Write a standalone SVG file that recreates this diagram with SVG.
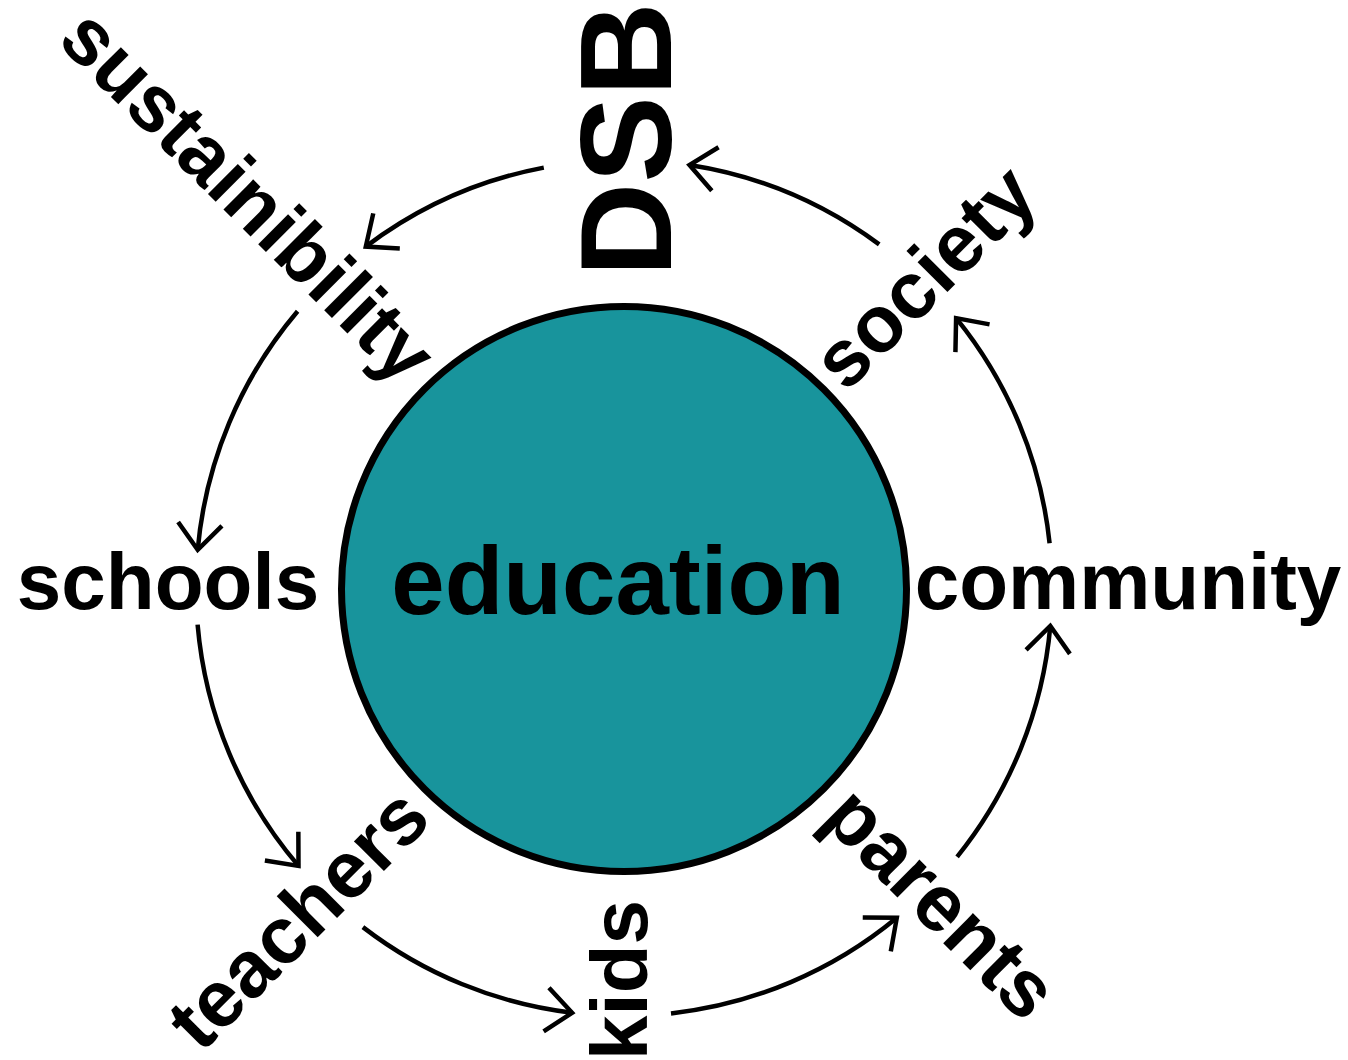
<svg xmlns="http://www.w3.org/2000/svg" width="1348" height="1060" viewBox="0 0 1348 1060">
<style>
.lbl{font-family:"Liberation Sans",Arial,Helvetica,sans-serif;font-weight:bold;font-size:80px;fill:#000;text-anchor:middle}
.conn{fill:none;stroke:#000;stroke-width:4.5}
</style>
<defs>
<marker id="chev" markerUnits="userSpaceOnUse" markerWidth="60" markerHeight="60" viewBox="-40 -30 50 60" refX="0" refY="0" orient="auto" overflow="visible">
<path d="M -26 -22 L 0 0 L -26 22" fill="none" stroke="#000" stroke-width="4.5" stroke-linejoin="miter" stroke-linecap="butt"/>
</marker>
</defs>
<rect width="1348" height="1060" fill="#fff"/>
<g id="connectors">
<path class="conn" marker-end="url(#chev)" d="M 543.8 167.6 A 428 428 0 0 0 365.8 246.6"/>
<path class="conn" marker-end="url(#chev)" d="M 297.6 311.2 A 428 428 0 0 0 197.7 549.9"/>
<path class="conn" marker-end="url(#chev)" d="M 197.6 624.6 A 428 428 0 0 0 298.5 865.9"/>
<path class="conn" marker-end="url(#chev)" d="M 362.9 927.1 A 428 428 0 0 0 572.1 1012.8"/>
<path class="conn" marker-end="url(#chev)" d="M 671.0 1013.4 A 428 428 0 0 0 896.8 917.8"/>
<path class="conn" marker-end="url(#chev)" d="M 957.1 856.8 A 428 428 0 0 0 1050.3 626.0"/>
<path class="conn" marker-end="url(#chev)" d="M 1049.6 543.3 A 428 428 0 0 0 956.1 318.1"/>
<path class="conn" marker-end="url(#chev)" d="M 879.2 244.4 A 428 428 0 0 0 689.5 165.0"/>
</g>
<g id="education">
<circle cx="624" cy="589" r="282.5" fill="#18949c" stroke="#000" stroke-width="7"/>
<text class="lbl" x="618" y="614" style="font-size:96px">education</text>
</g>
<g id="dsb">
<text class="lbl" transform="translate(671,139.5) rotate(-90)" style="font-size:130px">DSB</text>
</g>
<g id="sustainibility">
<text class="lbl" transform="translate(229,215) rotate(45)">sustainibility</text>
</g>
<g id="schools">
<text class="lbl" x="168" y="609">schools</text>
</g>
<g id="teachers">
<text class="lbl" transform="translate(317,938) rotate(-45)">teachers</text>
</g>
<g id="kids">
<text class="lbl" transform="translate(647,980) rotate(-90)">kids</text>
</g>
<g id="parents">
<text class="lbl" transform="translate(922,922) rotate(45)">parents</text>
</g>
<g id="community">
<text class="lbl" x="1128" y="609">community</text>
</g>
<g id="society">
<text class="lbl" transform="translate(943.5,296) rotate(-45)">society</text>
</g>
</svg>
